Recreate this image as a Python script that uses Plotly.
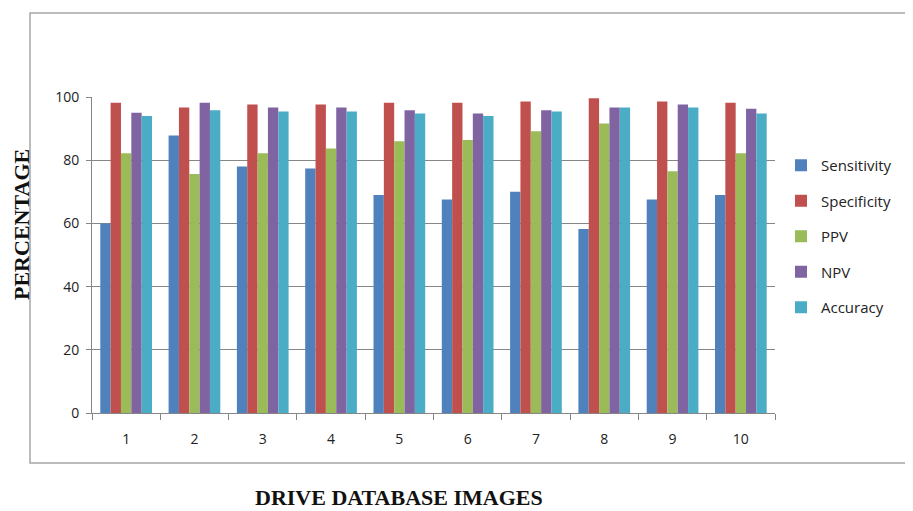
import plotly.graph_objects as go

images = ["1", "2", "3", "4", "5", "6", "7", "8", "9", "10"]
sensitivity = [60.0, 87.8, 78.0, 77.4, 69.0, 67.6, 70.0, 58.2, 67.6, 69.0]
specificity = [98.2, 96.7, 97.6, 97.6, 98.2, 98.2, 98.6, 99.6, 98.6, 98.2]
ppv = [82.2, 75.6, 82.2, 83.7, 86.0, 86.4, 89.2, 91.6, 76.5, 82.2]
npv = [95.0, 98.2, 96.7, 96.7, 95.8, 94.8, 95.8, 96.7, 97.6, 96.3]
accuracy = [94.0, 95.8, 95.4, 95.4, 94.8, 94.0, 95.4, 96.7, 96.7, 94.8]

series = [
    ("Sensitivity", sensitivity, "#4F81BD"),
    ("Specificity", specificity, "#C0504D"),
    ("PPV", ppv, "#9BBB59"),
    ("NPV", npv, "#8064A2"),
    ("Accuracy", accuracy, "#4BACC6"),
]

fig = go.Figure()
for i, (name, vals, col) in enumerate(series):
    fig.add_trace(go.Bar(x=images, y=vals, name=name, marker_color=col,
                         marker_line_width=0, legendgroup=name))

OFF = 8  # page body margin
W, H = 905, 503
L = 92 - OFF
T = 97 - OFF
R = W - (775 - OFF)
B = H - (413 - OFF)
pw, ph = W - L - R, H - T - B

def px_x(px):
    return (px - OFF - L) / pw

def px_y(py):
    return (H - B - (py - OFF)) / ph

grey = "#868686"
fig.update_layout(
    width=W, height=H,
    margin=dict(l=L, r=R, t=T, b=B),
    paper_bgcolor="white", plot_bgcolor="white",
    barmode="group", bargap=0.243, bargroupgap=0,
    font=dict(family="Open Sans, Liberation Sans, sans-serif", size=14, color="#222"),
    showlegend=True,
    legend=dict(x=px_x(781), y=px_y(149), xanchor="left", yanchor="top",
                font=dict(size=15, color="#222"), tracegroupgap=13,
                itemwidth=30, bgcolor="rgba(0,0,0,0)"),
    xaxis=dict(type="category", showline=True, linecolor=grey, linewidth=1,
               ticks="outside", tickson="boundaries", ticklen=6, tickcolor=grey,
               showgrid=False, ticklabelstandoff=13, tickfont=dict(size=14)),
    yaxis=dict(range=[0, 100], tickvals=[0, 20, 40, 60, 80, 100],
               showline=True, linecolor=grey, linewidth=1,
               ticks="outside", ticklen=5, tickcolor=grey,
               showgrid=True, gridcolor=grey, gridwidth=1,
               zeroline=False, ticklabelstandoff=4, tickfont=dict(size=14)),
    shapes=[dict(type="rect", xref="paper", yref="paper",
                 x0=px_x(30), x1=px_x(930), y0=px_y(463), y1=px_y(13),
                 line=dict(color="#A6A6A6", width=1.5), layer="below")],
    annotations=[
        dict(text="<b>PERCENTAGE</b>", xref="paper", yref="paper",
             x=px_x(21), y=px_y(225), textangle=-90, showarrow=False,
             xanchor="center", yanchor="middle",
             font=dict(family="Liberation Serif, serif", size=22, color="#111")),
        dict(text="<b>DRIVE DATABASE IMAGES</b>", xref="paper", yref="paper",
             x=px_x(399), y=px_y(497), showarrow=False,
             xanchor="center", yanchor="middle",
             font=dict(family="Liberation Serif, serif", size=22, color="#111")),
    ],
)

fig.write_html("out.html")
